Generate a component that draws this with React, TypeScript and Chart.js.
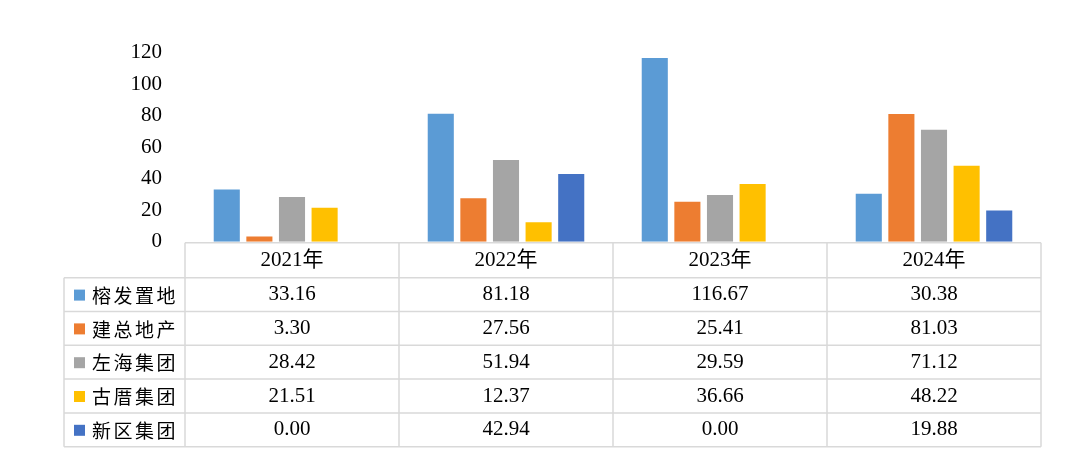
import React, { useEffect, useRef } from 'react';
import { Chart, registerables } from 'chart.js';

Chart.register(...registerables);

const years = ['2021年', '2022年', '2023年', '2024年'];
const seriesNames = ['榕发置地', '建总地产', '左海集团', '古厝集团', '新区集团'];
const rongfa = [33.16, 81.18, 116.67, 30.38];
const jianzong = [3.3, 27.56, 25.41, 81.03];
const zuohai = [28.42, 51.94, 29.59, 71.12];
const gucuo = [21.51, 12.37, 36.66, 48.22];
const xinqu = [0.0, 42.94, 0.0, 19.88];
const yMin = 0;
const yMax = 120;
const yStep = 20;
const seriesColors = ['#5B9BD5', '#ED7D31', '#A5A5A5', '#FFC000', '#4472C4'];

const seriesValues = [rongfa, jianzong, zuohai, gucuo, xinqu];

const NUM_FONT = "'Liberation Serif', 'Noto Sans CJK SC', serif";

const tablePlugin = {
  id: 'dataTable',
  afterDraw(chart: any) {
    const ctx = chart.ctx as CanvasRenderingContext2D;
    const xs = chart.scales.x;
    const area = chart.chartArea;
    const half = (xs.getPixelForValue(1) - xs.getPixelForValue(0)) / 2;
    const edges: number[] = [];
    for (let i = 0; i < years.length; i++) edges.push(xs.getPixelForValue(i) - half);
    edges.push(xs.getPixelForValue(years.length - 1) + half);
    const left = 64;
    const top = area.bottom + 1;
    const headerH = 35;
    const rowH = 33.8;
    const bottom = top + headerH + rowH * seriesNames.length;

    ctx.save();
    ctx.strokeStyle = '#D9D9D9';
    ctx.lineWidth = 1.5;
    ctx.beginPath();
    ctx.moveTo(edges[0], top);
    ctx.lineTo(edges[edges.length - 1], top);
    for (let r = 0; r <= seriesNames.length; r++) {
      const y = top + headerH + rowH * r;
      ctx.moveTo(left, y);
      ctx.lineTo(edges[edges.length - 1], y);
    }
    for (let i = 0; i < edges.length; i++) {
      ctx.moveTo(edges[i], top);
      ctx.lineTo(edges[i], bottom);
    }
    ctx.moveTo(left, top + headerH);
    ctx.lineTo(left, bottom);
    ctx.stroke();

    ctx.fillStyle = '#000';
    ctx.textAlign = 'center';
    ctx.textBaseline = 'middle';
    ctx.font = `21px ${NUM_FONT}`;
    years.forEach((y, i) => {
      ctx.fillText(y, xs.getPixelForValue(i), top + headerH / 2);
    });
    seriesValues.forEach((vals, r) => {
      const cy = top + headerH + rowH * r + rowH / 2;
      vals.forEach((v, i) => {
        ctx.fillText(v.toFixed(2), xs.getPixelForValue(i), cy);
      });
    });

    ctx.textAlign = 'left';
    ctx.font = "19px 'Noto Sans CJK SC', sans-serif";
    (ctx as any).letterSpacing = '2.5px';
    seriesNames.forEach((name, r) => {
      const cy = top + headerH + rowH * r + rowH / 2;
      ctx.fillStyle = seriesColors[r];
      ctx.fillRect(74, cy - 5, 11, 11);
      ctx.fillStyle = '#000';
      ctx.fillText(name, 92, cy + 1);
    });
    ctx.restore();
  },
};

export default function App() {
  const ref = useRef<HTMLCanvasElement>(null);
  useEffect(() => {
    document.body.style.margin = '0';
    const canvas = ref.current!;
    const chart = new Chart(canvas, {
      type: 'bar',
      data: {
        labels: years,
        datasets: seriesNames.map((name, i) => ({
          label: name,
          data: seriesValues[i],
          backgroundColor: seriesColors[i],
          borderWidth: 0,
          categoryPercentage: 0.762,
          barPercentage: 0.8,
        })),
      },
      options: {
        animation: false,
        responsive: false,
        devicePixelRatio: 1,
        layout: { padding: { left: 0, right: 32, top: 52.7, bottom: 221.3 } },
        plugins: {
          legend: { display: false },
          tooltip: { enabled: false },
        },
        scales: {
          x: { display: false },
          y: {
            min: yMin,
            max: yMax,
            ticks: {
              stepSize: yStep,
              padding: 15,
              color: '#000',
              font: { family: NUM_FONT, size: 21 },
            },
            grid: { display: false },
            border: { display: false },
            afterFit(scale: any) {
              scale.width = 185;
            },
          },
        },
      },
      plugins: [tablePlugin],
    });
    return () => chart.destroy();
  }, []);
  return (
    <div style={{ width: 1073, height: 463 }}>
      <canvas ref={ref} width={1073} height={463} style={{ display: 'block' }} />
    </div>
  );
}
